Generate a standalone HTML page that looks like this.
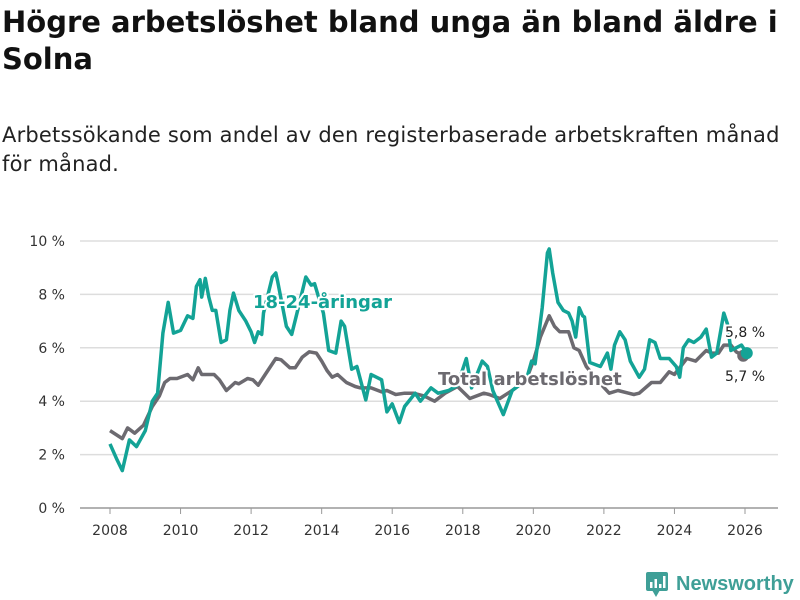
<!DOCTYPE html>
<html><head><meta charset="utf-8">
<style>
body{margin:0;background:#fff;width:800px;height:600px;overflow:hidden;font-family:"DejaVu Sans",sans-serif;}
#title{position:absolute;left:2px;top:4px;font-size:29px;font-weight:bold;line-height:37px;color:#111;margin:0;letter-spacing:0;white-space:nowrap}
#sub{position:absolute;left:2px;top:121px;font-size:21px;line-height:29px;color:#222;margin:0;white-space:nowrap;letter-spacing:0.2px}
svg{position:absolute;left:0;top:0}
</style></head><body>
<h1 id="title">Högre arbetslöshet bland unga än bland äldre i<br>Solna</h1>
<p id="sub">Arbetssökande som andel av den registerbaserade arbetskraften månad<br>för månad.</p>
<svg id="chart" width="800" height="600"></svg>
<script>
const yTicks=[0,2,4,6,8,10];
const xTicks=[2008,2010,2012,2014,2016,2018,2020,2022,2024,2026];
const youthX=[2008.0,2008.2,2008.35,2008.55,2008.75,2009.0,2009.2,2009.35,2009.5,2009.65,2009.8,2010.0,2010.2,2010.35,2010.45,2010.55,2010.6,2010.7,2010.8,2010.9,2011.0,2011.15,2011.3,2011.4,2011.5,2011.65,2011.85,2012.0,2012.1,2012.2,2012.3,2012.35,2012.6,2012.7,2012.75,2013.0,2013.15,2013.3,2013.55,2013.7,2013.8,2014.05,2014.2,2014.4,2014.55,2014.65,2014.85,2015.0,2015.25,2015.4,2015.7,2015.85,2016.0,2016.2,2016.35,2016.65,2016.8,2017.1,2017.3,2017.6,2017.85,2018.1,2018.25,2018.55,2018.7,2018.85,2019.15,2019.4,2019.8,2019.95,2020.05,2020.25,2020.4,2020.45,2020.55,2020.7,2020.85,2021.0,2021.1,2021.2,2021.3,2021.4,2021.45,2021.6,2021.9,2022.1,2022.2,2022.3,2022.45,2022.6,2022.75,2023.0,2023.15,2023.3,2023.45,2023.6,2023.85,2024.05,2024.15,2024.25,2024.4,2024.55,2024.75,2024.9,2025.05,2025.2,2025.4,2025.5,2025.6,2025.75,2025.9,2026.05];
const youthV=[2.4,1.8,1.4,2.55,2.3,2.9,4.0,4.3,6.55,7.7,6.55,6.65,7.2,7.1,8.3,8.55,7.9,8.6,7.9,7.4,7.4,6.2,6.3,7.4,8.05,7.4,7.0,6.6,6.2,6.6,6.5,7.3,8.65,8.8,8.5,6.8,6.5,7.3,8.65,8.35,8.4,7.3,5.9,5.8,7.0,6.8,5.2,5.3,4.05,5.0,4.8,3.6,3.9,3.2,3.8,4.3,4.0,4.5,4.3,4.4,4.6,5.6,4.5,5.5,5.3,4.4,3.5,4.4,4.8,5.5,5.4,7.5,9.55,9.7,8.8,7.7,7.4,7.3,7.0,6.4,7.5,7.2,7.15,5.45,5.3,5.8,5.2,6.1,6.6,6.3,5.5,4.9,5.2,6.3,6.2,5.6,5.6,5.3,4.9,6.0,6.3,6.2,6.4,6.7,5.65,5.8,7.3,6.9,5.9,6.0,6.1,5.8];
const totalX=[2008.0,2008.35,2008.5,2008.7,2008.95,2009.2,2009.4,2009.55,2009.7,2009.9,2010.2,2010.35,2010.5,2010.6,2010.95,2011.1,2011.3,2011.55,2011.65,2011.9,2012.05,2012.2,2012.4,2012.7,2012.85,2013.1,2013.25,2013.45,2013.65,2013.85,2014.0,2014.15,2014.3,2014.45,2014.7,2014.95,2015.1,2015.4,2015.7,2015.85,2016.1,2016.35,2016.6,2016.9,2017.2,2017.5,2017.85,2018.2,2018.6,2018.75,2019.05,2019.4,2019.8,2020.0,2020.2,2020.45,2020.6,2020.75,2021.0,2021.15,2021.3,2021.5,2021.8,2022.15,2022.4,2022.7,2022.85,2023.0,2023.35,2023.6,2023.85,2024.0,2024.35,2024.6,2024.9,2025.05,2025.25,2025.4,2025.6,2025.75,2025.95];
const totalV=[2.9,2.6,3.0,2.8,3.1,3.8,4.2,4.7,4.85,4.85,5.0,4.8,5.25,5.0,5.0,4.8,4.4,4.7,4.65,4.85,4.8,4.6,5.0,5.6,5.55,5.25,5.25,5.65,5.85,5.8,5.5,5.15,4.9,5.0,4.7,4.55,4.5,4.5,4.35,4.4,4.25,4.3,4.3,4.2,4.0,4.3,4.55,4.1,4.3,4.25,4.1,4.4,4.8,5.5,6.4,7.2,6.8,6.6,6.6,6.0,5.9,5.3,4.8,4.3,4.4,4.3,4.25,4.3,4.7,4.7,5.1,5.0,5.6,5.5,5.9,5.8,5.8,6.1,6.1,5.85,5.7];
const NS="http://www.w3.org/2000/svg";
const svg=document.getElementById('chart');
const X0=110,X1=745,Y0=508,Y10=241;
const FF='DejaVu Sans, sans-serif';
function xs(v){return X0+(v-2008)*(X1-X0)/18;}
function ys(v){return Y0+(v)*(Y10-Y0)/10;}
function mk(t,a){const e=document.createElementNS(NS,t);for(const k in a)e.setAttribute(k,a[k]);svg.appendChild(e);return e;}
yTicks.forEach(t=>{
 const g=mk('line',{x1:80,x2:778,y1:ys(t),y2:ys(t),stroke:t===0?'#999':'#ddd','stroke-width':1.5});
 
 
 const l=mk('text',{x:65,y:ys(t)+5,'text-anchor':'end','font-size':14,fill:'#333','font-family':FF});
 l.textContent=t+' %';
 
 
});
xTicks.forEach(t=>{
 const g=mk('line',{x1:xs(t),x2:xs(t),y1:508,y2:514,stroke:'#999','stroke-width':1});
 
 
 const l=mk('text',{x:xs(t),y:535,'text-anchor':'middle','font-size':14,fill:'#333','font-family':FF});
 l.textContent=t;
 
 
});
function path(xa,va){return xa.map((x,i)=>(i?'L':'M')+xs(x).toFixed(1)+','+ys(va[i]).toFixed(1)).join('');}
const pt=mk('path',{d:path(totalX,totalV),fill:'none',stroke:'#6c6a70','stroke-width':3.5,'stroke-linejoin':'round'});


const py=mk('path',{d:path(youthX,youthV),fill:'none',stroke:'#13a396','stroke-width':3.5,'stroke-linejoin':'round'});


const dt=mk('circle',{cx:xs(totalX[totalX.length-1]),cy:ys(totalV[totalV.length-1]),r:6,fill:'#6c6a70'});


const dy=mk('circle',{cx:xs(youthX[youthX.length-1]),cy:ys(youthV[youthV.length-1]),r:6,fill:'#13a396'});


function label(txt,x,y,fill,size,bold,name){
 const l=mk('text',{x:x,y:y,'font-size':size,fill:fill,'font-weight':bold?'bold':'normal','font-family':FF,stroke:'#fff','stroke-width':4,'paint-order':'stroke','stroke-linejoin':'round'});
 l.textContent=txt;
 
 
}
label('18-24-åringar',253,308,'#13a396',18,true,'youth-series-label');
label('Total arbetslöshet',438,385,'#6c6a70',18,true,'total-series-label');
label('5,8 %',725,337,'#222',14,false,'youth-end-value');
label('5,7 %',725,381,'#222',14,false,'total-end-value');
</script>
<svg width="800" height="600">
<rect x="646" y="572" width="22" height="19" rx="2" fill="#3f9f97"/>
<polygon points="652,590 660,590 656,597" fill="#3f9f97"/>
<rect x="650" y="582" width="2.5" height="6" fill="#fff"/><rect x="654.5" y="579" width="2.5" height="9" fill="#fff"/><rect x="659" y="584" width="2.5" height="4" fill="#fff"/><rect x="663" y="576" width="2.5" height="12" fill="#fff"/>
<text x="676" y="590" font-size="20" font-weight="bold" fill="#3f9f97" font-family="Liberation Sans, sans-serif">Newsworthy</text>
</svg>
</body></html>
